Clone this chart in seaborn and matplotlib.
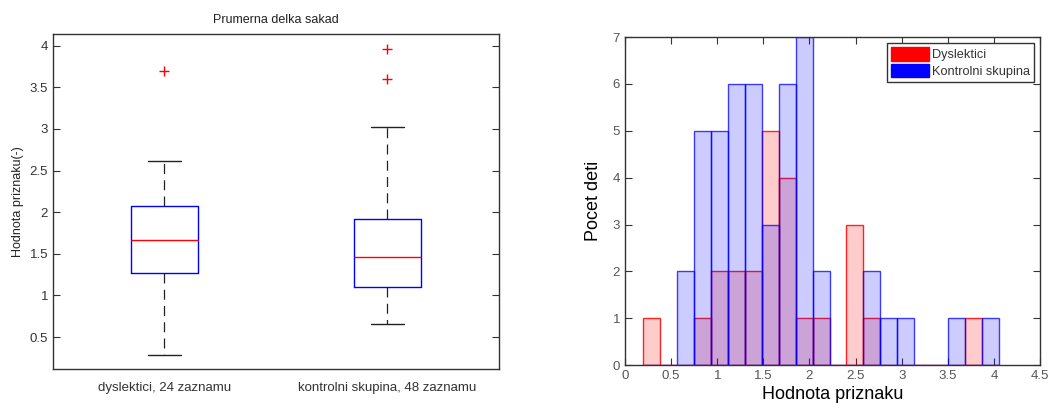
import numpy as np
import matplotlib
matplotlib.use("Agg")
import matplotlib.pyplot as plt
from matplotlib.patches import Patch
import seaborn as sns

# ---------------- data ----------------
box_labels = ["dyslektici, 24 zaznamu", "kontrolni skupina, 48 zaznamu"]
box_q1 = [1.27, 1.107]
box_median = [1.663, 1.467]
box_q3 = [2.075, 1.92]
box_whislo = [0.29, 0.663]
box_whishi = [2.62, 3.024]
box_outliers = [[3.70], [3.96, 3.60]]

bin_centers = [0.290, 0.474, 0.657, 0.840, 1.024, 1.208, 1.391, 1.575, 1.758,
               1.942, 2.125, 2.309, 2.492, 2.676, 2.859, 3.043, 3.226, 3.410,
               3.593, 3.777, 3.960]
counts_dys = [1, 0, 0, 1, 2, 2, 2, 5, 4, 1, 1, 0, 3, 1, 0, 0, 0, 0, 0, 1, 0]
counts_ctrl = [0, 0, 2, 5, 5, 6, 6, 3, 6, 7, 2, 0, 0, 2, 1, 1, 0, 0, 1, 0, 1]
bin_width = 0.1835
hist_labels = ["Dyslektici", "Kontrolni skupina"]

# ---------------- style ----------------
sns.set_style("white")
plt.rcParams["font.family"] = ["Liberation Sans", "DejaVu Sans"]
plt.rcParams["font.size"] = 9
tick_col = "#333333"

fig = plt.figure(figsize=(10.48, 4.03), dpi=100)

# ---------------- left: boxplot ----------------
ax1 = fig.add_axes([0.0506, 0.084, 0.4254, 0.832])
stats = []
for i in range(len(box_labels)):
    stats.append(dict(med=box_median[i], q1=box_q1[i], q3=box_q3[i],
                      whislo=box_whislo[i], whishi=box_whishi[i],
                      fliers=box_outliers[i], label=box_labels[i]))
ax1.bxp(stats, positions=[1, 2], widths=0.3, showfliers=True,
        boxprops=dict(color="blue", linewidth=1.0),
        medianprops=dict(color="red", linewidth=1.0),
        whiskerprops=dict(color="#222222", linestyle=(0, (8, 5)), linewidth=0.9),
        capprops=dict(color="#222222", linewidth=1.0),
        capwidths=0.15,
        flierprops=dict(marker="+", markeredgecolor="red", markersize=7,
                        markeredgewidth=1.0, linestyle="none"))
ax1.set_xlim(0.5, 2.5)
ax1.set_ylim(0.116, 4.14)
ax1.set_yticks([0.5, 1, 1.5, 2, 2.5, 3, 3.5, 4])
ax1.set_yticklabels(["0.5", "1", "1.5", "2", "2.5", "3", "3.5", "4"])
ax1.set_ylabel("Hodnota priznaku(-)", fontsize=9, color="#222222", labelpad=4)
ax1.set_title("Prumerna delka sakad", fontsize=9, color="#222222", pad=8)
ax1.tick_params(axis="y", direction="in", left=True, right=True, length=5,
                labelsize=9.5, labelcolor=tick_col, color="#333333")
ax1.tick_params(axis="x", bottom=False, top=False, labelsize=9.5,
                labelcolor=tick_col, pad=6)
for s in ax1.spines.values():
    s.set_color("#333333")
    s.set_linewidth(1.0)

# ---------------- right: histogram ----------------
ax2 = fig.add_axes([0.5964, 0.094, 0.396, 0.814])
edges = [c - bin_width / 2 for c in bin_centers] + [bin_centers[-1] + bin_width / 2]
sns.histplot(x=bin_centers, weights=counts_dys, bins=edges, ax=ax2,
             facecolor=(1, 0, 0, 0.2), edgecolor=(1, 0, 0, 0.85), linewidth=1.0)
sns.histplot(x=bin_centers, weights=counts_ctrl, bins=edges, ax=ax2,
             facecolor=(0, 0, 1, 0.2), edgecolor=(0, 0, 1, 0.75), linewidth=1.0)
ax2.set_xlim(0, 4.5)
ax2.set_ylim(0, 7)
ax2.set_xticks([0, 0.5, 1, 1.5, 2, 2.5, 3, 3.5, 4, 4.5])
ax2.set_xticklabels(["0", "0.5", "1", "1.5", "2", "2.5", "3", "3.5", "4", "4.5"])
ax2.set_yticks(range(0, 8))
ax2.tick_params(axis="both", direction="in", left=True, right=True, top=True,
                bottom=True, length=5, labelsize=9.5, labelcolor="#555555",
                color="#333333")
ax2.set_xlabel("Hodnota priznaku", fontsize=13, color="black", labelpad=3)
ax2.set_ylabel("Pocet deti", fontsize=13, color="black", labelpad=8)
for s in ax2.spines.values():
    s.set_color("#333333")
    s.set_linewidth(1.0)

handles = [Patch(facecolor="red", edgecolor="red"),
           Patch(facecolor="blue", edgecolor="blue")]
leg = ax2.legend(handles, hist_labels, loc="upper right", fancybox=False,
                 framealpha=1, edgecolor="#333333", fontsize=9.2,
                 handlelength=3.0, handleheight=1.25, handletextpad=0.2,
                 borderpad=0.3, labelspacing=0.2, borderaxespad=0.5)
leg.get_frame().set_linewidth(1.0)
for t in leg.get_texts():
    t.set_color("#333333")

fig.savefig("out.png", dpi=100)
